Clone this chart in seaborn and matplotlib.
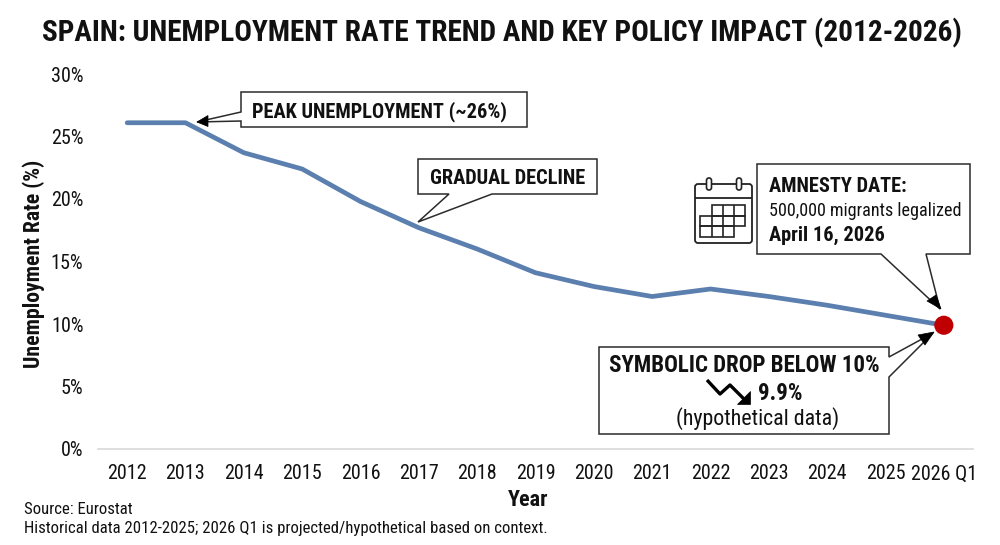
import matplotlib
matplotlib.use("Agg")
import matplotlib.pyplot as plt
import pandas as pd
import seaborn as sns
from matplotlib.patches import Polygon, FancyBboxPatch, Rectangle
from matplotlib.lines import Line2D
from matplotlib.transforms import Affine2D

# Unemployment series
periods = ["2012", "2013", "2014", "2015", "2016", "2017", "2018", "2019",
           "2020", "2021", "2022", "2023", "2024", "2025", "2026 Q1"]
rates = [26.1, 26.1, 23.7, 22.4, 19.8, 17.7, 16.0, 14.1,
         13.0, 12.2, 12.8, 12.2, 11.5, 10.7, 9.9]
y_ticks = [0, 5, 10, 15, 20, 25, 30]
y_tick_labels = ["0%", "5%", "10%", "15%", "20%", "25%", "30%"]

title_text = "SPAIN: UNEMPLOYMENT RATE TREND AND KEY POLICY IMPACT (2012-2026)"
source_lines = ["Source: Eurostat",
                "Historical data 2012-2025; 2026 Q1 is projected/hypothetical based on context."]

W, H = 1000, 545
LINE_BLUE = "#5b7fae"
DOT_RED = "#c00000"
INK = "#111111"
EDGE = "#2b2b2b"

sns.set_theme(style="white")
plt.rcParams["font.family"] = ["Roboto Condensed", "Roboto", "DejaVu Sans"]

fig = plt.figure(figsize=(W / 100, H / 100), dpi=100, facecolor="white")
ax = fig.add_axes([98 / W, 1 - 449 / H, 875 / W, 375 / H])

df = pd.DataFrame({"period": periods, "rate": rates})
sns.lineplot(data=df, x="period", y="rate", color=LINE_BLUE, linewidth=3.4,
             solid_capstyle="round", solid_joinstyle="round", ax=ax, zorder=3)
sns.scatterplot(data=df.tail(1), x="period", y="rate", color=DOT_RED, s=190,
                edgecolor="none", ax=ax, zorder=6, clip_on=False)

ax.set_xlim(-0.5, len(periods) - 0.5)
ax.set_ylim(0, 30)
ax.set_yticks(y_ticks, y_tick_labels)
for side in ("top", "right", "left"):
    ax.spines[side].set_visible(False)
ax.spines["bottom"].set_color("#d9d9d9")
ax.spines["bottom"].set_linewidth(1.2)
ax.tick_params(axis="both", length=0, labelsize=14.5, labelcolor=INK)
ax.tick_params(axis="x", pad=11)
ax.tick_params(axis="y", pad=10.5)
ax.set_xlabel("Year", fontsize=16, fontweight="bold", color=INK)
ax.set_ylabel("Unemployment Rate (%)", fontsize=15.7, fontweight="bold", color=INK)
ax.xaxis.set_label_coords(0.492, -0.107)
ax.yaxis.set_label_coords(-0.061, 0.495)

# Pixel-based overlay for callouts, with the origin at the top left
px = Affine2D().scale(1 / W, -1 / H).translate(0, 1) + fig.transFigure


def add_poly(points, face="white", edge=EDGE, lw=1.1, z=5):
    fig.add_artist(Polygon(points, closed=True, facecolor=face, edgecolor=edge,
                           linewidth=lw, transform=px, zorder=z, joinstyle="miter"))


def add_text(x, y, s, size, weight="normal", ha="left", z=8):
    fig.text(x, y, s, fontsize=size, fontweight=weight, ha=ha, va="center",
             color=INK, transform=px, zorder=z)


def add_line(xs, ys, lw=1.4, color=EDGE, z=8):
    fig.add_artist(Line2D(xs, ys, color=color, linewidth=lw, transform=px,
                          zorder=z, solid_capstyle="butt"))


# Peak callout
add_poly([(241, 92), (527, 92), (527, 127), (241, 127), (241, 121), (197, 122), (241, 112)])
add_poly([(197, 122), (208, 115.5), (208, 126.5)], face="black", edge="black", lw=0.5, z=7)
add_text(252, 111.5, "PEAK UNEMPLOYMENT (~26%)", 14.7, "bold")

# Decline callout
add_poly([(418, 159), (597, 159), (597, 194), (492, 194), (418, 222), (449, 194), (418, 194)])
add_text(430, 178.5, "GRADUAL DECLINE", 14.7, "bold")

# Amnesty callout
add_poly([(757, 164), (970, 164), (970, 254), (926, 254), (940, 309), (881, 254), (757, 254)])
add_poly([(941, 309), (927, 301), (936, 295)], face="black", edge="black", lw=0.5, z=7)
add_text(769, 186.5, "AMNESTY DATE:", 14.7, "bold")
add_text(769, 211, "500,000 migrants legalized", 13.1)
add_text(769, 235.5, "April 16, 2026", 14.7, "bold")

# Drop callout
add_poly([(599, 347), (889, 347), (889, 357), (933, 333), (889, 377), (889, 434), (599, 434)])
add_poly([(934, 332), (925, 345), (918, 335)], face="black", edge="black", lw=0.5, z=7)
add_text(744, 366, "SYMBOLIC DROP BELOW 10%", 16.5, "bold", ha="center")
add_text(758, 393, "9.9%", 16.5, "bold")
add_text(757.5, 419, "(hypothetical data)", 15.8, ha="center")

# Falling-trend glyph next to the 9.9% figure
add_line([707, 720, 730, 744], [380, 394, 385, 399], lw=2.4, color="black")
add_poly([(750, 391), (750, 404), (737, 404)], face="black", edge="black", lw=0.5, z=8)

# Calendar glyph
fig.add_artist(FancyBboxPatch((695, 184), 57, 59, boxstyle="round,pad=0,rounding_size=3",
                              facecolor="white", edgecolor="#222222", linewidth=1.3,
                              transform=px, zorder=5))
add_line([694.5, 752], [198, 198], lw=1.3, color="#222222")
for ring_x in (709, 739):
    fig.add_artist(FancyBboxPatch((ring_x - 2.5, 178), 5, 12, boxstyle="round,pad=0,rounding_size=2.4",
                                  facecolor="white", edgecolor="#222222", linewidth=1.2,
                                  transform=px, zorder=7))
for x0, x1, y0, y1 in [(712, 745, 205, 216), (700, 745, 216, 226), (700, 734, 226, 237)]:
    fig.add_artist(Rectangle((x0, y0), x1 - x0, y1 - y0, facecolor="none",
                             edgecolor="#222222", linewidth=1.2, transform=px, zorder=7))
for grid_x, y0, y1 in [(723, 205, 237), (734, 205, 226), (712, 216, 237)]:
    add_line([grid_x, grid_x], [y0, y1], lw=1.2, color="#222222")

# Title and notes
add_text(502, 33, title_text, 21.1, "bold", ha="center")
add_text(24, 509, source_lines[0], 12.1)
add_text(24, 528, source_lines[1], 12.1)

fig.savefig("out.png", dpi=100, facecolor="white")
